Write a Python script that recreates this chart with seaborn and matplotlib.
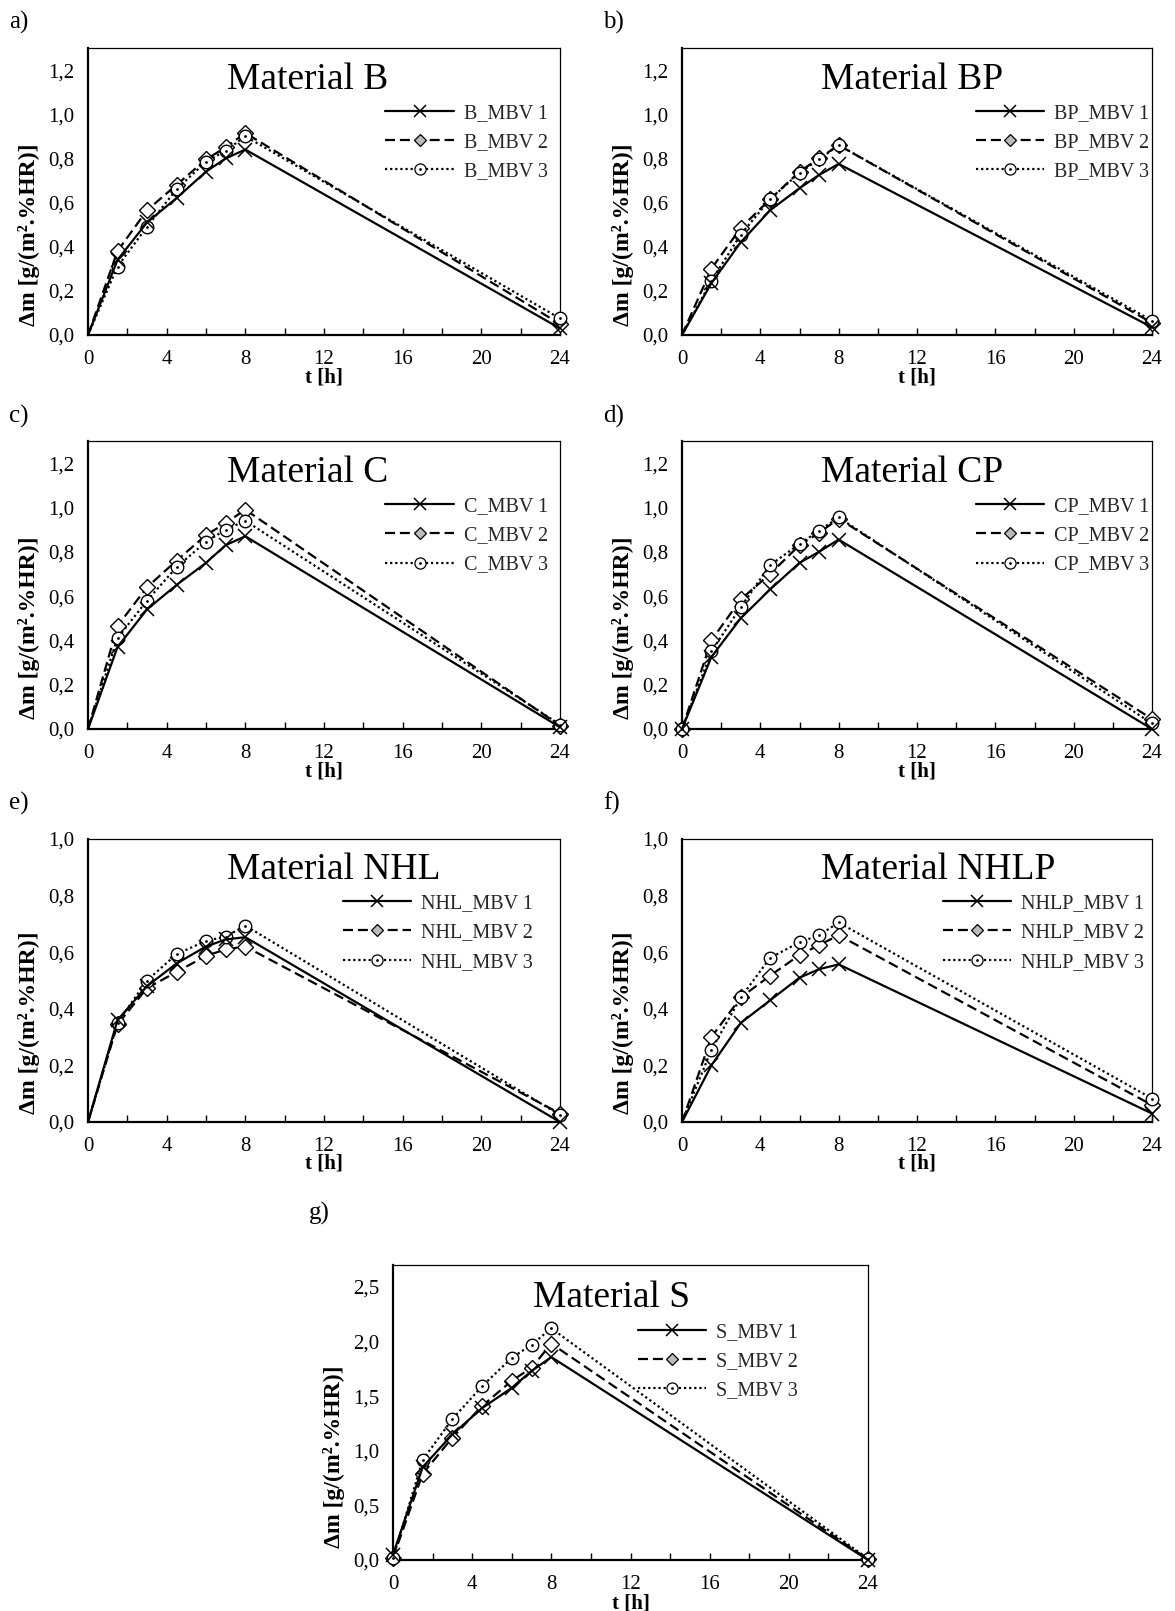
import matplotlib
matplotlib.use("Agg")
import matplotlib.pyplot as plt
import seaborn as sns
from matplotlib.lines import Line2D
from matplotlib.ticker import MultipleLocator, FuncFormatter

# ---------------- data ----------------
t_hours = [0, 1.5, 3, 4.5, 6, 7, 8, 24]

B_MBV1 = [0, 0.34, 0.51, 0.62, 0.74, 0.80, 0.84, 0.03]
B_MBV2 = [0, 0.38, 0.565, 0.68, 0.795, 0.85, 0.915, 0.05]
B_MBV3 = [0, 0.31, 0.49, 0.66, 0.785, 0.835, 0.90, 0.075]

BP_MBV1 = [0, 0.235, 0.42, 0.565, 0.665, 0.725, 0.775, 0.035]
BP_MBV2 = [0, 0.30, 0.485, 0.615, 0.74, 0.80, 0.86, 0.055]
BP_MBV3 = [0, 0.245, 0.455, 0.615, 0.735, 0.795, 0.86, 0.065]

C_MBV1 = [0, 0.37, 0.54, 0.65, 0.75, 0.83, 0.87, 0.008]
C_MBV2 = [0, 0.465, 0.64, 0.76, 0.875, 0.93, 0.99, 0.015]
C_MBV3 = [0, 0.41, 0.58, 0.73, 0.845, 0.90, 0.94, 0.02]

CP_MBV1 = [0, 0.325, 0.50, 0.63, 0.75, 0.80, 0.855, 0.0]
CP_MBV2 = [0, 0.40, 0.585, 0.70, 0.83, 0.885, 0.95, 0.045]
CP_MBV3 = [0, 0.35, 0.55, 0.74, 0.835, 0.895, 0.955, 0.025]

NHL_MBV1 = [0, 0.36, 0.48, 0.56, 0.62, 0.645, 0.653, 0.0]
NHL_MBV2 = [0, 0.345, 0.473, 0.53, 0.587, 0.61, 0.62, 0.03]
NHL_MBV3 = [0, 0.35, 0.50, 0.593, 0.64, 0.655, 0.694, 0.025]

NHLP_MBV1 = [0, 0.20, 0.35, 0.43, 0.51, 0.54, 0.557, 0.03]
NHLP_MBV2 = [0, 0.30, 0.44, 0.517, 0.59, 0.625, 0.66, 0.06]
NHLP_MBV3 = [0, 0.255, 0.44, 0.58, 0.635, 0.66, 0.705, 0.083]

S_MBV1 = [0.05, 0.85, 1.15, 1.39, 1.575, 1.73, 1.857, 0.0]
S_MBV2 = [0.02, 0.79, 1.12, 1.41, 1.64, 1.76, 1.98, 0.005]
S_MBV3 = [0.02, 0.916, 1.29, 1.59, 1.85, 1.97, 2.12, 0.01]

panel_letters = ["a)", "b)", "c)", "d)", "e)", "f)", "g)"]
materials = ["B", "BP", "C", "CP", "NHL", "NHLP", "S"]
series = [
    (B_MBV1, B_MBV2, B_MBV3),
    (BP_MBV1, BP_MBV2, BP_MBV3),
    (C_MBV1, C_MBV2, C_MBV3),
    (CP_MBV1, CP_MBV2, CP_MBV3),
    (NHL_MBV1, NHL_MBV2, NHL_MBV3),
    (NHLP_MBV1, NHLP_MBV2, NHLP_MBV3),
    (S_MBV1, S_MBV2, S_MBV3),
]
y_max = [1.3, 1.3, 1.3, 1.3, 1.0, 1.0, 2.7]
y_step = [0.2, 0.2, 0.2, 0.2, 0.2, 0.2, 0.5]
x_label = "t [h]"
y_label = "Δm [g/(m².%HR)]"

# ---------------- layout (pixels) ----------------
W, H = 1175, 1611
# left, top, right, bottom
boxes = [
    (88, 48, 560, 335),
    (682, 48, 1152, 335),
    (88, 441, 560, 729),
    (682, 441, 1152, 729),
    (88, 839, 560, 1122),
    (682, 839, 1152, 1122),
    (393, 1265, 868, 1560),
]
letter_pos = [(9, 22), (603, 22), (9, 416), (603, 416), (9, 803), (603, 803), (309, 1213)]
legend_x = [0.63, 0.625, 0.63, 0.625, 0.54, 0.555, 0.515]
show_origin_marker = [False, False, False, True, False, False, True]

sns.set_theme(style="white")
plt.rcParams["font.family"] = ["Liberation Serif", "DejaVu Serif"]
plt.rcParams["mathtext.fontset"] = "stix"

fig = plt.figure(figsize=(W / 100, H / 100), dpi=100)
fig.patch.set_facecolor("white")

comma_fmt = FuncFormatter(lambda v, p: f"{v:.1f}".replace(".", ","))

LW = 1.6
dash2 = (0, (4.5, 2.2))
dot3 = (0, (1.0, 1.3))

for i in range(7):
    l, t, r, b = boxes[i]
    ax = fig.add_axes([l / W, 1 - b / H, (r - l) / W, (b - t) / H])
    s1, s2, s3 = series[i]
    me = None if show_origin_marker[i] else list(range(1, len(t_hours)))

    sns.lineplot(x=t_hours, y=s1, ax=ax, color="black", lw=LW, marker="x",
                 markersize=10, markeredgewidth=1.1, markeredgecolor="black",
                 markevery=me, clip_on=False, zorder=4)
    sns.lineplot(x=t_hours, y=s2, ax=ax, color="black", lw=LW, linestyle=dash2,
                 marker="D", markersize=8, markerfacecolor="white",
                 markeredgecolor="black", markeredgewidth=1.0,
                 markevery=me, clip_on=False, zorder=3)
    sns.lineplot(x=t_hours, y=s3, ax=ax, color="black", lw=LW, linestyle=dot3,
                 marker="o", markersize=9, markerfacecolor="white",
                 markeredgecolor="black", markeredgewidth=1.0,
                 markevery=me, clip_on=False, zorder=3)
    dot_t = t_hours if show_origin_marker[i] else t_hours[1:]
    dot_v = s3 if show_origin_marker[i] else s3[1:]
    sns.scatterplot(x=dot_t, y=dot_v, ax=ax, color="black", s=4, linewidth=0,
                    marker="o", zorder=5, clip_on=False, legend=False)

    ax.set_xlim(0, 24)
    ax.set_ylim(0, y_max[i])
    ax.xaxis.set_major_locator(MultipleLocator(4))
    ax.xaxis.set_minor_locator(MultipleLocator(2))
    ax.yaxis.set_major_locator(MultipleLocator(y_step[i]))
    ax.yaxis.set_major_formatter(comma_fmt)
    ax.tick_params(axis="x", which="both", direction="in", length=5, width=1.0,
                   color="black", bottom=True, top=False, labelsize=15, pad=11)
    ax.tick_params(axis="y", which="both", length=0, labelsize=15, pad=10, left=True)
    for lab in ax.get_xticklabels() + ax.get_yticklabels():
        lab.set_color("black")

    for side, sp in ax.spines.items():
        sp.set_visible(True)
        sp.set_color("black")
        sp.set_linewidth(1.6 if side in ("bottom", "left") else 0.9)

    ax.set_xlabel(x_label, fontsize=15, fontweight="bold", color="black")
    ax.set_ylabel(y_label, fontsize=17, fontweight="bold", color="black")
    ax.xaxis.label.set_va("center")
    ax.yaxis.label.set_va("center")
    ax.xaxis.set_label_coords(0.5, -0.148)
    ax.yaxis.set_label_coords(-0.125, 0.35)

    ax.text(0.295, 0.89, f"Material {materials[i]}", transform=ax.transAxes,
            ha="left", va="center", fontsize=27, color="black")

    h1 = Line2D([], [], color="black", lw=LW, marker="x", markersize=8,
                markeredgewidth=1.1)
    h2 = Line2D([], [], color="black", lw=LW, linestyle=dash2, marker="D",
                markersize=6, markerfacecolor="#bbbbbb", markeredgecolor="black",
                markeredgewidth=0.9)
    h3a = Line2D([], [], color="black", lw=LW, linestyle=dot3, marker="o",
                 markersize=8, markerfacecolor="white", markeredgecolor="black",
                 markeredgewidth=0.9)
    h3b = Line2D([], [], color="black", lw=0, marker="o", markersize=2,
                 markeredgewidth=0)
    names = [f"{materials[i]}_MBV {k}" for k in (1, 2, 3)]
    ax.legend([h1, h2, (h3a, h3b)], names, loc="upper left",
              bbox_to_anchor=(legend_x[i], 0.805), frameon=False, fontsize=14.5,
              handlelength=3.4, handletextpad=0.5, labelspacing=0.5,
              borderpad=0, borderaxespad=0, numpoints=1)

    lx, ly = letter_pos[i]
    fig.text(lx / W, 1 - ly / H, panel_letters[i], ha="left", va="center",
             fontsize=18, color="black")

fig.savefig("out.png", dpi=100, facecolor="white")
